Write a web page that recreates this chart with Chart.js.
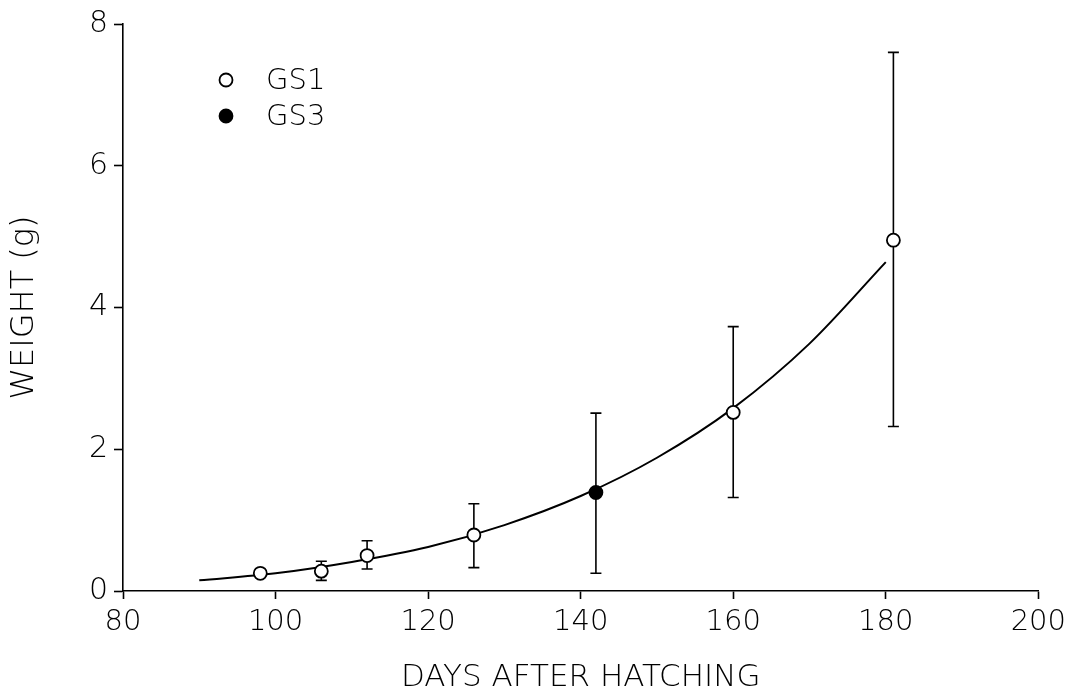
<!DOCTYPE html>
<html>
<head>
<meta charset="utf-8">
<script src="https://cdn.jsdelivr.net/npm/chart.js@4/dist/chart.umd.min.js"></script>
<style>
  html, body { margin: 0; padding: 0; background: #fff; }
  #wrap { width: 1072px; height: 693px; position: relative; }
</style>
</head>
<body>
<div id="wrap"><canvas id="growth"></canvas></div>
<script>
// GS1 samples (open circles)
const gs1Days = [98, 106, 112, 126, 160, 181];
const gs1Weight = [0.25, 0.28, 0.50, 0.79, 2.52, 4.95];
const gs1Upper = [null, 0.42, 0.71, 1.23, 3.73, 7.60];
const gs1Lower = [null, 0.15, 0.31, 0.33, 1.32, 2.32];

// GS3 sample (filled circle)
const gs3Days = [142];
const gs3Weight = [1.39];
const gs3Upper = [2.51];
const gs3Lower = [0.25];

// fitted growth curve
const fitDays = [90, 100, 110, 120, 130, 140, 150, 160, 170, 180];
const fitWeight = [0.15, 0.25, 0.41, 0.62, 0.93, 1.34, 1.88, 2.58, 3.49, 4.64];

const xTicks = [80, 100, 120, 140, 160, 180, 200];
const yTicks = [0, 2, 4, 6, 8];

const FONT = "'DejaVu Sans', sans-serif";
const WEIGHT = 200;

const toPoints = (xs, ys) => xs.map((x, i) => ({ x: x, y: ys[i] }));

// error bars drawn under the markers
const errorBars = {
  id: 'errorBars',
  beforeDatasetsDraw(chart) {
    const ctx = chart.ctx;
    const xs = chart.scales.x, ys = chart.scales.y;
    const sets = [
      [gs1Days, gs1Upper, gs1Lower],
      [gs3Days, gs3Upper, gs3Lower]
    ];
    ctx.save();
    ctx.strokeStyle = '#000';
    ctx.lineWidth = 1.6;
    sets.forEach(([days, up, lo]) => {
      days.forEach((d, i) => {
        if (up[i] == null) return;
        const px = xs.getPixelForValue(d);
        const top = ys.getPixelForValue(up[i]);
        const bot = ys.getPixelForValue(lo[i]);
        ctx.beginPath();
        ctx.moveTo(px, top); ctx.lineTo(px, bot);
        ctx.moveTo(px - 5.5, top); ctx.lineTo(px + 5.5, top);
        ctx.moveTo(px - 5.5, bot); ctx.lineTo(px + 5.5, bot);
        ctx.stroke();
      });
    });
    ctx.restore();
  }
};

// legend in the upper-left of the plot
const insideLegend = {
  id: 'insideLegend',
  afterDraw(chart) {
    const ctx = chart.ctx;
    const a = chart.chartArea;
    const items = [
      { label: 'GS1', fill: '#fff' },
      { label: 'GS3', fill: '#000' }
    ];
    ctx.save();
    ctx.font = WEIGHT + ' 29px ' + FONT;
    ctx.textBaseline = 'middle';
    items.forEach((it, i) => {
      const cx = a.left + 103, cy = a.top + 56 + i * 36;
      ctx.beginPath();
      ctx.arc(cx, cy, 6.5, 0, Math.PI * 2);
      ctx.fillStyle = it.fill;
      ctx.fill();
      ctx.lineWidth = 1.8;
      ctx.strokeStyle = '#000';
      ctx.stroke();
      ctx.fillStyle = '#000';
      ctx.fillText(it.label, a.left + 143, cy + 1);
    });
    ctx.restore();
  }
};

new Chart(document.getElementById('growth'), {
  type: 'scatter',
  data: {
    datasets: [
      {
        label: 'GS1',
        data: toPoints(gs1Days, gs1Weight),
        pointRadius: 6.5,
        pointBorderWidth: 1.8,
        pointBackgroundColor: '#fff',
        pointBorderColor: '#000',
        order: 2
      },
      {
        label: 'GS3',
        data: toPoints(gs3Days, gs3Weight),
        pointRadius: 6.5,
        pointBorderWidth: 1.8,
        pointBackgroundColor: '#000',
        pointBorderColor: '#000',
        order: 1
      },
      {
        label: 'fit',
        type: 'line',
        data: toPoints(fitDays, fitWeight),
        showLine: true,
        borderColor: '#000',
        borderWidth: 2,
        pointRadius: 0,
        cubicInterpolationMode: 'monotone',
        fill: false,
        order: 3
      }
    ]
  },
  options: {
    responsive: true,
    maintainAspectRatio: false,
    animation: false,
    events: [],
    layout: { padding: { top: 24, right: 31, bottom: 0, left: 0 } },
    plugins: {
      legend: { display: false },
      tooltip: { enabled: false }
    },
    scales: {
      x: {
        type: 'linear',
        min: 80,
        max: 200,
        afterFit: s => { s.height = 102; },
        afterBuildTicks: s => { s.ticks = xTicks.map(v => ({ value: v })); },
        grid: { drawOnChartArea: false, tickLength: 8, tickColor: '#000', tickWidth: 1.6 },
        border: { display: true, color: '#000', width: 1.6 },
        ticks: { color: '#000', font: { family: FONT, size: 29, weight: WEIGHT }, padding: 6, maxRotation: 0 },
        title: {
          display: true,
          text: 'DAYS AFTER HATCHING',
          color: '#000',
          font: { family: FONT, size: 31, weight: WEIGHT, lineHeight: 1 },
          padding: { top: 0, bottom: 0 }
        }
      },
      y: {
        type: 'linear',
        min: 0,
        max: 8,
        afterFit: s => { s.width = 123; },
        afterBuildTicks: s => { s.ticks = yTicks.map(v => ({ value: v })); },
        grid: { drawOnChartArea: false, tickLength: 9, tickColor: '#000', tickWidth: 1.6 },
        border: { display: true, color: '#000', width: 1.6 },
        ticks: { color: '#000', font: { family: FONT, size: 30, weight: WEIGHT }, padding: 6 },
        title: {
          display: true,
          text: 'WEIGHT (g)',
          color: '#000',
          font: { family: FONT, size: 32, weight: WEIGHT, lineHeight: 1 },
          padding: { top: 9, bottom: 0 }
        }
      }
    }
  },
  plugins: [errorBars, insideLegend]
});
</script>
</body>
</html>
